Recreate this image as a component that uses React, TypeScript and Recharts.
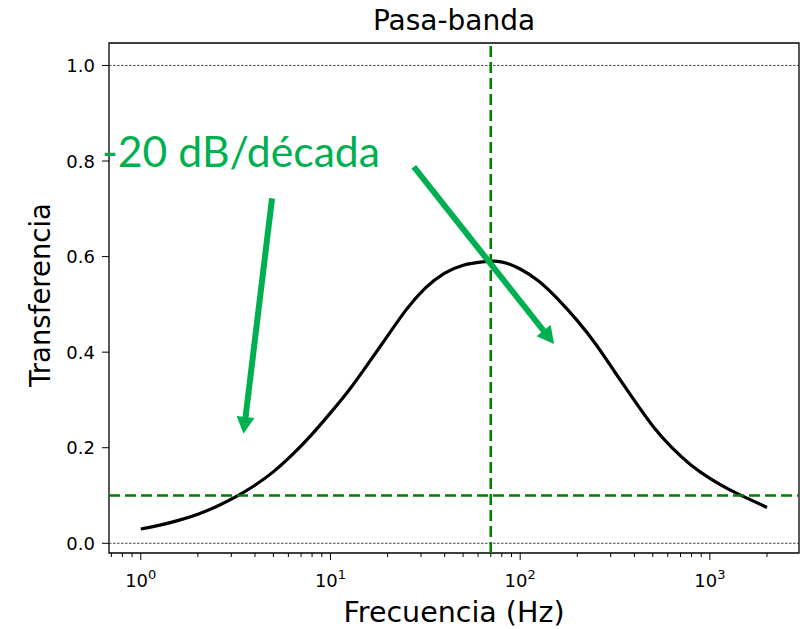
import React from "react";
import { LineChart, Line, XAxis, YAxis, ReferenceLine, ReferenceArea } from "recharts";

// Frequency (Hz) samples and transfer magnitude
const freqs = [1, 1.26, 1.58, 2, 2.51, 3.16, 3.98, 5.01, 6.31, 7.94, 10, 12.6, 15.8, 20, 25.1, 31.6, 39.8, 50.1, 63.1, 79.4, 100, 126, 158, 200, 251, 316, 398, 501, 631, 794, 1000, 1260, 1580, 2000];
const transfer = [0.030, 0.038, 0.048, 0.061, 0.077, 0.097, 0.121, 0.150, 0.186, 0.227, 0.273, 0.322, 0.376, 0.434, 0.489, 0.534, 0.565, 0.582, 0.589, 0.589, 0.574, 0.548, 0.511, 0.466, 0.416, 0.358, 0.300, 0.245, 0.200, 0.164, 0.136, 0.113, 0.094, 0.075];

const xTicks = [0.7, 0.8, 0.9, 1, 2, 3, 4, 5, 6, 7, 8, 9, 10, 20, 30, 40, 50, 60, 70, 80, 90, 100, 200, 300, 400, 500, 600, 700, 800, 900, 1000, 2000];
const yTicks = [0, 0.2, 0.4, 0.6, 0.8, 1.0];
const xDomain = [0.68, 2950];
const yDomain = [-0.0203, 1.047];

const centerFreq = 70;
const levelLine = 0.1;
const gridLevels = [0, 1];

// annotation arrows (data coordinates): tail -> tip
const arrows = [
  { from: { x: 4.92, y: 0.722 }, to: { x: 3.48, y: 0.229 } },
  { from: { x: 27.5, y: 0.788 }, to: { x: 151, y: 0.417 } },
];

const data = freqs.map((f, i) => ({ f, v: transfer[i] }));

const FONT = "DejaVu Sans";
const ANN = "#00B050";
const DASH_G = "#008000";

const XTick = (props: any) => {
  const { x, y, payload } = props;
  const v = payload.value;
  const lg = Math.log10(v);
  const major = Math.abs(lg - Math.round(lg)) < 1e-6;
  return (
    <g>
      <line x1={x} x2={x} y1={y} y2={y + (major ? 7 : 4)} stroke="#000" strokeWidth={1} />
      {major && (
        <text x={x} y={y + 34} textAnchor="middle" fontFamily={FONT} fontSize={18} fill="#000">
          10
          <tspan dy={-8} fontSize={13}>{Math.round(lg)}</tspan>
        </text>
      )}
    </g>
  );
};

const YTick = (props: any) => {
  const { x, y, payload } = props;
  return (
    <g>
      <line x1={x - 7} x2={x} y1={y} y2={y} stroke="#000" strokeWidth={1} />
      <text x={x - 14} y={y} dy="0.36em" textAnchor="end" fontFamily={FONT} fontSize={18} fill="#000">
        {payload.value.toFixed(1)}
      </text>
    </g>
  );
};

const Arrow = (props: any) => {
  const { x1, y1, x2, y2 } = props;
  const dx = x2 - x1;
  const dy = y2 - y1;
  const len = Math.sqrt(dx * dx + dy * dy);
  const ux = dx / len;
  const uy = dy / len;
  const headL = 17;
  const headW = 9;
  const bx = x2 - ux * headL;
  const by = y2 - uy * headL;
  const px = -uy;
  const py = ux;
  return (
    <g>
      <line x1={x1} y1={y1} x2={bx + ux * 1} y2={by + uy * 1} stroke={ANN} strokeWidth={6} />
      <polygon
        points={`${x2},${y2} ${bx + px * headW},${by + py * headW} ${bx - px * headW},${by - py * headW}`}
        fill={ANN}
      />
    </g>
  );
};

export default function App() {
  return (
    <div style={{ position: "relative", width: 803, height: 621 }}>
      <LineChart
        width={803}
        height={621}
        data={data}
        margin={{ top: 35, right: 12, bottom: 36, left: 41 }}
      >
        <XAxis
          dataKey="f"
          type="number"
          scale="log"
          domain={xDomain}
          allowDataOverflow
          ticks={xTicks}
          interval={0}
          tick={<XTick />}
          tickLine={false}
          tickSize={0}
          tickMargin={0}
          axisLine={false}
          height={40}
        />
        <YAxis
          type="number"
          domain={yDomain}
          allowDataOverflow
          ticks={yTicks}
          interval={0}
          tick={<YTick />}
          tickLine={false}
          tickSize={0}
          tickMargin={0}
          axisLine={false}
          width={60}
        />
        {gridLevels.map((g) => (
          <ReferenceLine key={g} y={g} stroke="#333" strokeWidth={0.9} strokeDasharray="2.5 1.5" />
        ))}
        <Line
          dataKey="v"
          type="natural"
          stroke="#000"
          strokeWidth={3.2}
          dot={false}
          isAnimationActive={false}
        />
        <ReferenceLine y={levelLine} stroke={DASH_G} strokeWidth={2.6} strokeDasharray="11 5" />
        <ReferenceLine x={centerFreq} stroke={DASH_G} strokeWidth={2.6} strokeDasharray="11 5" />
        <ReferenceArea
          x1={xDomain[0]}
          x2={xDomain[1]}
          y1={yDomain[0]}
          y2={yDomain[1]}
          fill="none"
          fillOpacity={0}
          stroke="#000"
          strokeWidth={1.3}
          ifOverflow="visible"
        />
        {arrows.map((a, i) => (
          <ReferenceLine
            key={"a" + i}
            segment={[a.from, a.to]}
            ifOverflow="visible"
            shape={(p: any) => <Arrow {...p} />}
          />
        ))}
      </LineChart>
      <svg
        width={803}
        height={621}
        style={{ position: "absolute", left: 0, top: 0, pointerEvents: "none", overflow: "visible" }}
      >
        <text x={446} y={21.5} textAnchor="middle" fontFamily={FONT} fontSize={28} fill="#000">
          Pasa-banda
        </text>
        <text x={446} y={613.5} textAnchor="middle" fontFamily={FONT} fontSize={28.5} fill="#000">
          Frecuencia (Hz)
        </text>
        <text
          transform="translate(42,287) rotate(-90)"
          textAnchor="middle"
          fontFamily={FONT}
          fontSize={27.5}
          fill="#000"
        >
          Transferencia
        </text>
        <text
          x={94}
          y={158.7}
          fontFamily="Lato"
          fontSize={42}
          fill={ANN}
          textLength={278}
          lengthAdjust="spacingAndGlyphs"
        >
          -20 dB/década
        </text>
      </svg>
    </div>
  );
}
